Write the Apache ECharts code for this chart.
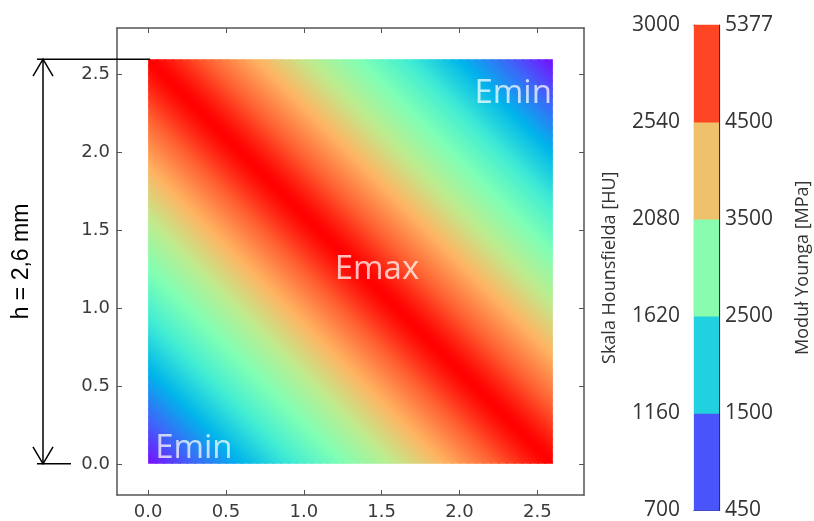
<!DOCTYPE html>
<html><head><meta charset="utf-8">
<script src="https://cdn.jsdelivr.net/npm/echarts@6/dist/echarts.min.js"></script>
<style>html,body{margin:0;padding:0;background:#fff}#c{width:814px;height:521px}</style>
</head><body><div id="c"></div>
<script>
// ---- data ----
const axisTicks = [0.0, 0.5, 1.0, 1.5, 2.0, 2.5];
const fieldSize = 2.6;      // mm, side of the square sample
const sStep = 0.05;         // step of x+y between profile samples
// Young's modulus [MPa] read across the ridge x+y=2.6, at distance d = 0, 0.05, ... 2.6 (in x+y units)
const ridgeProfile = [
  5377, 5330, 5260, 5180, 5090, 5000, 4900, 4800, 4710, 4610,
  4520, 4420, 4330, 4230, 4140, 4040, 3950, 3850, 3760, 3660,
  3570, 3470, 3380, 3280, 3190, 3090, 3000, 2900, 2810, 2710,
  2620, 2520, 2430, 2330, 2240, 2140, 2050, 1950, 1860, 1760,
  1670, 1570, 1480, 1380, 1290, 1190, 1100, 1000, 910, 810,
  720, 620, 510
];
const huTicks = [700, 1160, 1620, 2080, 2540, 3000];
const mpaTicks = [450, 1500, 2500, 3500, 4500, 5377];
const textLabels = ['Emax', 'Emin', 'Emin'];
const textAnchors = [[1.47, 1.25], [0.045, 0.10], [2.096, 2.378]];
const textAligns = ['center', 'left', 'left'];

// ---- build ----
const nHalf = ridgeProfile.length - 1;            // 52
const fieldData = [];                              // [x+y, E]
for (let k = 0; k <= 2 * nHalf; k++) {
  fieldData.push([k * sStep, ridgeProfile[Math.abs(k - nHalf)]]);
}
const cbData = [];
for (let i = 0; i < mpaTicks.length - 1; i++) {
  cbData.push([0, i, (mpaTicks[i] + mpaTicks[i + 1]) / 2]);
}
const rainbow = ['#8000ff', '#4062fa', '#00b5eb', '#40ecd4', '#80ffb4', '#c0eb8d', '#ffb462', '#ff6232', '#ff0000'];
const frame = {color: '#555', width: 1.5};

// clip the square [0,L]^2 to a <= x+y <= b (Sutherland-Hodgman)
function clipStrip(a, b, L) {
  let poly = [[0, 0], [L, 0], [L, L], [0, L]];
  const clip = (pts, inside, cut) => {
    const out = [];
    for (let i = 0; i < pts.length; i++) {
      const p = pts[i], q = pts[(i + 1) % pts.length];
      const pin = inside(p), qin = inside(q);
      if (pin) out.push(p);
      if (pin !== qin) out.push(cut(p, q));
    }
    return out;
  };
  const cutAt = (c) => (p, q) => {
    const sp = p[0] + p[1], sq = q[0] + q[1];
    const t = (c - sp) / (sq - sp);
    return [p[0] + t * (q[0] - p[0]), p[1] + t * (q[1] - p[1])];
  };
  poly = clip(poly, p => p[0] + p[1] >= a, cutAt(a));
  poly = clip(poly, p => p[0] + p[1] <= b, cutAt(b));
  return poly;
}

const chart = echarts.init(document.getElementById('c'), null, {renderer: 'canvas'});
const mainAxis = (dim, pos, labels) => ({
  gridIndex: 0, type: 'value', min: -0.2, max: 2.8, position: pos,
  axisLine: {show: true, onZero: false, lineStyle: frame},
  axisTick: {show: true, inside: true, length: 5, customValues: axisTicks, lineStyle: {color: '#555', width: 1}},
  axisLabel: {show: labels, customValues: axisTicks, formatter: v => v.toFixed(1), fontFamily: 'DejaVu Sans', fontSize: 18, color: '#3a3a3a', margin: dim === 'x' ? 8 : 7},
  splitLine: {show: false}
});
const cbLine = {show: true, onZero: false, lineStyle: {color: '#333', width: 1.2}};

chart.setOption({
  animation: false,
  backgroundColor: '#fff',
  grid: [
    {left: 117, right: 230, top: 28, bottom: 26},
    {left: 694, width: 25, top: 25, height: 489}
  ],
  xAxis: [
    mainAxis('x', 'bottom', true),
    mainAxis('x', 'top', false),
    {gridIndex: 1, type: 'value', min: 0, max: 1, position: 'bottom', axisLine: cbLine, axisTick: {show: false}, axisLabel: {show: false}, splitLine: {show: false}},
    {gridIndex: 1, type: 'value', min: 0, max: 1, position: 'top', axisLine: cbLine, axisTick: {show: false}, axisLabel: {show: false}, splitLine: {show: false}}
  ],
  yAxis: [
    mainAxis('y', 'left', true),
    mainAxis('y', 'right', false),
    {gridIndex: 1, type: 'value', min: 0, max: 5, interval: 1, position: 'left',
      axisLine: cbLine, axisTick: {show: false}, splitLine: {show: false},
      axisLabel: {formatter: v => String(huTicks[v]), fontFamily: 'Open Sans', fontSize: 21, color: '#333', margin: 14},
      name: 'Skala Hounsfielda [HU]', nameLocation: 'middle', nameRotate: 90, nameGap: 75,
      nameTextStyle: {fontFamily: 'Open Sans', fontSize: 18, color: '#333'}},
    {gridIndex: 1, type: 'value', min: 0, max: 5, interval: 1, position: 'right',
      axisLine: cbLine, axisTick: {show: false}, splitLine: {show: false},
      axisLabel: {formatter: v => String(mpaTicks[v]), fontFamily: 'Open Sans', fontSize: 21, color: '#333', margin: 6},
      name: 'Moduł Younga [MPa]', nameLocation: 'middle', nameRotate: 90, nameGap: 75,
      nameTextStyle: {fontFamily: 'Open Sans', fontSize: 18, color: '#333'}}
  ],
  visualMap: [
    {type: 'continuous', show: false, seriesIndex: 0, dimension: 1, min: 450, max: 5377, inRange: {color: rainbow}},
    {type: 'continuous', show: false, seriesIndex: 1, dimension: 2, min: 450, max: 5377, inRange: {color: rainbow}}
  ],
  series: [
    {
      // field: strips of constant x+y, each shaded from its own E to the next one's
      type: 'custom', xAxisIndex: 0, yAxisIndex: 0, data: fieldData, silent: true,
      encode: {x: 0, y: 0},
      renderItem: (params, api) => {
        const idx = params.dataIndexInside;
        if (idx >= params.dataInsideLength - 1) return null;
        const a = api.value(0), b = api.value(0, idx + 1);
        const poly = clipStrip(a, Math.min(b + 0.012, 2 * fieldSize), fieldSize).map(p => api.coord(p));
        if (poly.length < 3) return null;
        const g0 = api.coord([a / 2, a / 2]), g1 = api.coord([b / 2, b / 2]);
        return {type: 'polygon', shape: {points: poly},
          style: {fill: new echarts.graphic.LinearGradient(g0[0], g0[1], g1[0], g1[1], [
            {offset: 0, color: api.visual('color')},
            {offset: 1, color: api.visual('color', idx + 1)}], true)}};
      }
    },
    {
      type: 'custom', xAxisIndex: 2, yAxisIndex: 2, data: cbData, silent: true,
      encode: {x: 0, y: 1},
      renderItem: (params, api) => {
        const p0 = api.coord([0, api.value(1)]);
        const p1 = api.coord([1, api.value(1) + 1]);
        return {type: 'rect', shape: {x: p0[0], y: p1[1] - 0.3, width: p1[0] - p0[0], height: p0[1] - p1[1] + 0.6},
          style: {fill: api.visual('color')}};
      }
    },
    {
      type: 'scatter', xAxisIndex: 0, yAxisIndex: 0, symbolSize: 0, silent: true,
      itemStyle: {color: 'rgba(0,0,0,0)'},
      data: textLabels.map((t, i) => ({name: t, value: textAnchors[i],
        label: {align: textAligns[i]}})),
      label: {show: true, position: 'inside', formatter: '{b}', fontFamily: 'Open Sans', fontSize: 33,
        color: 'rgba(255,255,255,0.92)', verticalAlign: 'middle'},
      z: 10
    }
  ]
});

// dimension annotation "h = 2,6 mm"
const pTop = chart.convertToPixel({gridIndex: 0}, [0, fieldSize]);
const pBot = chart.convertToPixel({gridIndex: 0}, [0, 0]);
const ax = 43;
const dimStyle = {stroke: '#000', lineWidth: 1.5, fill: null};
chart.setOption({
  graphic: [
    {type: 'line', shape: {x1: ax, y1: pTop[1], x2: ax, y2: pBot[1]}, style: dimStyle, z: 100},
    {type: 'line', shape: {x1: 37, y1: pTop[1], x2: pTop[0] + 2, y2: pTop[1]}, style: dimStyle, z: 100},
    {type: 'line', shape: {x1: 37, y1: pBot[1], x2: 71, y2: pBot[1]}, style: dimStyle, z: 100},
    {type: 'polyline', shape: {points: [[ax - 10, pTop[1] + 17], [ax, pTop[1]], [ax + 10, pTop[1] + 17]]}, style: dimStyle, z: 100},
    {type: 'polyline', shape: {points: [[ax - 10, pBot[1] - 17], [ax, pBot[1]], [ax + 10, pBot[1] - 17]]}, style: dimStyle, z: 100},
    {type: 'text', x: 22, y: (pTop[1] + pBot[1]) / 2, rotation: Math.PI / 2, z: 100,
      style: {text: 'h = 2,6 mm', fontFamily: 'Liberation Sans', fontSize: 23, fill: '#000', align: 'center', verticalAlign: 'middle'}}
  ]
});
</script>
</body></html>
